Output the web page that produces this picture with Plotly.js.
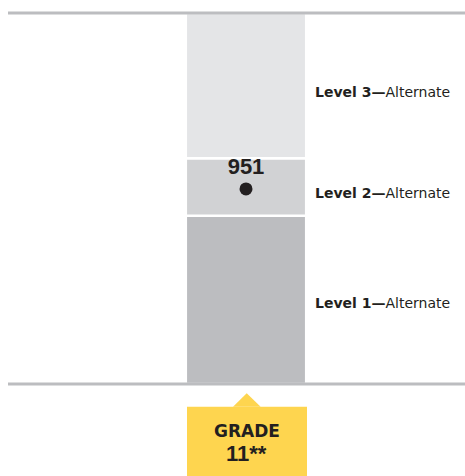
<!DOCTYPE html>
<html>
<head>
<meta charset="utf-8">
<script src="https://cdn.plot.ly/plotly-3.0.1.min.js"></script>
<style>
  html, body { margin: 0; padding: 0; background: #ffffff; }
  #chart { width: 465px; height: 476px; }
</style>
</head>
<body>
<div id="chart"></div>
<script>
// ---- data ----
const levels = ['Level 1', 'Level 2', 'Level 3'];
const levelSuffix = 'Alternate';
const scaleMin = 900;
const levelUpper = [944, 959, 997];
const studentScore = 951;
const gradeLines = ['GRADE', '11**'];

// ---- styles ----
const levelColors = ['#bcbdc0', '#d1d2d4', '#e4e5e7'];
const textColor = '#231f20';
const ruleColor = '#bcbdc0';
const badgeColor = '#fed54f';
const labelShift = [-3, -6, -6];
const sans = 'Liberation Sans, Arial, sans-serif';
const wide = 'DejaVu Sans, sans-serif';

const traces = levels.map((lv, i) => {
  const base = i === 0 ? scaleMin : levelUpper[i - 1];
  return {
    type: 'bar',
    x: [0],
    y: [levelUpper[i] - base],
    base: [base],
    width: [1.02],
    marker: { color: levelColors[i], line: { color: '#ffffff', width: 2.5 } },
    hoverinfo: 'skip',
    showlegend: false
  };
});

traces.push({
  type: 'scatter',
  mode: 'markers+text',
  x: [0],
  y: [studentScore],
  text: [String(studentScore)],
  textposition: 'top center',
  textfont: { family: sans, size: 22, color: textColor },
  texttemplate: '<b>%{text}</b>',
  marker: { size: 13, color: textColor },
  hoverinfo: 'skip',
  showlegend: false
});

const annotations = levels.map((lv, i) => {
  const lo = i === 0 ? scaleMin : levelUpper[i - 1];
  return {
    xref: 'x', yref: 'y',
    x: 0.5, y: (lo + levelUpper[i]) / 2,
    xanchor: 'left', yanchor: 'middle',
    xshift: 8, yshift: labelShift[i],
    showarrow: false,
    text: '<b>' + lv + '—</b>' + levelSuffix,
    font: { family: wide, size: 14, color: textColor }
  };
});

annotations.push({
  xref: 'x', yref: 'paper', x: 0.006, y: -0.128,
  xanchor: 'center', yanchor: 'middle', showarrow: false,
  text: '<b>' + gradeLines[0] + '</b>',
  font: { family: wide, size: 17, color: textColor }
});
annotations.push({
  xref: 'x', yref: 'paper', x: 0.006, y: -0.186,
  xanchor: 'center', yanchor: 'middle', showarrow: false,
  text: '<b>' + gradeLines[1] + '</b>',
  font: { family: sans, size: 22, color: textColor }
});

const shapes = [
  { type: 'line', xref: 'paper', yref: 'paper', x0: 0, x1: 1, y0: 1, y1: 1,
    line: { color: ruleColor, width: 3 }, layer: 'above' },
  { type: 'line', xref: 'paper', yref: 'paper', x0: 0, x1: 1, y0: 0, y1: 0,
    line: { color: ruleColor, width: 3 }, layer: 'above' },
  { type: 'rect', xref: 'x', yref: 'paper', x0: -0.5, x1: 0.517, y0: -0.26, y1: -0.0612,
    fillcolor: badgeColor, line: { width: 0 } },
  { type: 'path', xref: 'x', yref: 'paper',
    path: 'M -0.110 -0.0615 L 0.006 -0.025 L 0.124 -0.0615 Z',
    fillcolor: badgeColor, line: { width: 0 } }
];

const layout = {
  width: 465, height: 476,
  margin: { l: 8, r: 0, t: 13, b: 92 },
  paper_bgcolor: '#ffffff', plot_bgcolor: '#ffffff',
  barmode: 'overlay',
  xaxis: { range: [-2.017, 1.856], visible: false, fixedrange: true },
  yaxis: { range: [scaleMin, levelUpper[2]], visible: false, fixedrange: true },
  shapes: shapes,
  annotations: annotations,
  font: { family: sans, color: textColor },
  showlegend: false
};

Plotly.newPlot('chart', traces, layout, { staticPlot: true, displayModeBar: false });
</script>
</body>
</html>
